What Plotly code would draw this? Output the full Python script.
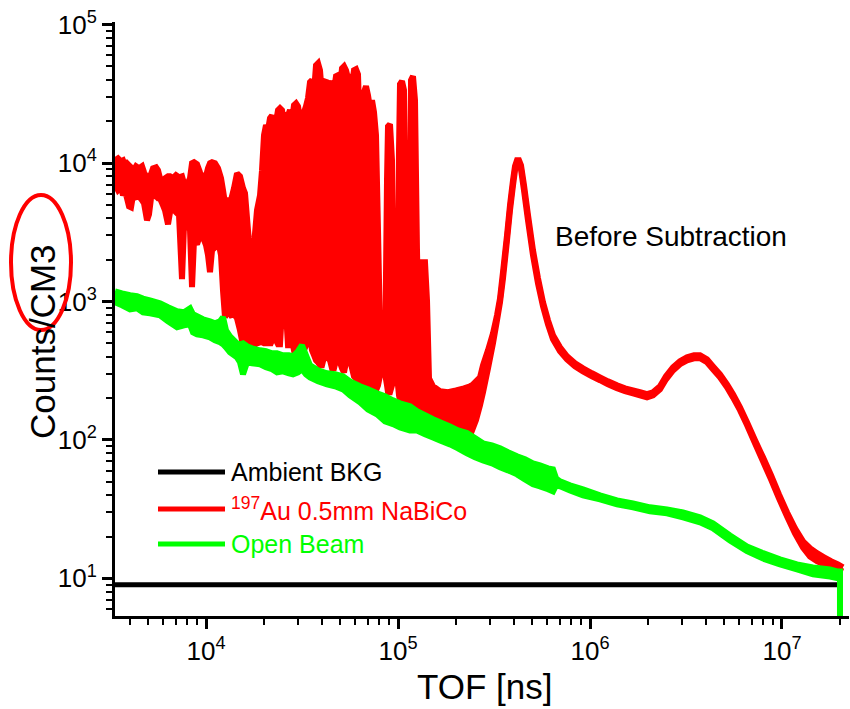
import plotly.graph_objects as go

# ---------------------------------------------------------------------------
# Time-of-flight spectra (TOF in ns, counts per channel).
# The noisy spectra are stored as an upper and a lower envelope per channel.
# ---------------------------------------------------------------------------

# 197Au 0.5 mm sample, NaBiCo filter
tof_au = [
    3357, 3481, 3609, 3697, 3785, 3877, 3972, 4069, 4168, 4320,
    4478, 4642, 4755, 4928, 5048, 5171, 5297, 5490, 5623, 5760,
    5971, 6116, 6340, 6494, 6732, 6979, 7235, 7499, 7681, 7963,
    8254, 8455, 8660, 8977, 9306, 9647, 10000, 10243, 10491, 10746,
    11139, 11548, 11971, 12262, 12559, 13019, 13496, 13990, 14502, 15033,
    15584, 15963, 16548, 17154, 17783, 18434, 19110, 19574, 20049, 20535,
    21034, 21544, 22067, 22603, 23151, 23714, 24289, 24879, 25483, 26102,
    26735, 27384, 28049, 28730, 29427, 30142, 30873, 31623, 32390, 33177,
    33982, 34807, 35652, 36517, 37404, 38312, 39242, 40194, 41170, 42170,
    43193, 44242, 45316, 46416, 47543, 48697, 49879, 51090, 52330, 53600,
    54901, 56234, 57599, 58997, 60430, 61897, 63399, 64165, 65721, 66515,
    68129, 69783, 71477, 73212, 74989, 76809, 78674, 80584, 82540, 85566,
    87643, 88701, 90853, 93057, 95316, 98807, 101210, 102430, 104910, 107460,
    110070, 112740, 115480, 116870, 119710, 122620, 125590, 128640, 131770, 134960,
    138240, 141590, 145020, 152150, 165480, 182140, 200490, 220670, 237140, 242890,
    254830, 267350, 277140, 294270, 312460, 327810, 339820, 352270, 369630, 383120,
    397160, 406790, 416660, 426760, 437110, 453160, 475430, 504800, 536000, 569120,
    604300, 641650, 697830, 759010, 835370, 919460, 1024300, 1127400, 1240900, 1382400,
    1521500, 1674800, 1821400, 1981000, 2128900, 2315100, 2487900, 2705900, 2942700, 3200400,
    3480700, 3740400, 4067900, 4371100, 4754300, 5170500, 5556500, 6043000, 6572100, 7234900,
    7962900, 8764300, 9646600, 10618000, 11687000, 12864000, 13990000, 15215000, 16548000, 17996000,
    19574000, 20775000,
]
au_upper = [
    10470, 10830, 10300, 10470, 9640, 9970, 9640, 9330, 8730, 9480,
    9170, 9480, 8580, 7770, 8030, 8300, 9170, 9330, 8870, 7770,
    7510, 7770, 8030, 8030, 7770, 8170, 7900, 8030, 7150, 6910,
    7770, 9970, 10130, 9800, 8580, 7770, 8030, 9170, 9970, 10130,
    9970, 9170, 7770, 6360, 5120, 5390, 5390, 6580, 8440, 8030,
    6580, 6050, 3270, 1920, 2550, 4560, 5850, 8870, 15900, 18800,
    17300, 21100, 22100, 17800, 19700, 24100, 24900, 24100, 19700, 22900,
    22100, 24100, 20400, 26200, 27000, 25700, 21100, 19700, 23300, 25700,
    29400, 38400, 39700, 32500, 50900, 52600, 46800, 30900, 38400, 39700,
    32500, 35900, 39000, 33600, 42400, 43100, 34700, 48400, 50000, 46800,
    41000, 43800, 36500, 46800, 47600, 43800, 14600, 1740, 12400, 32500,
    35900, 30900, 24900, 28400, 23300, 15900, 3270, 619, 335, 329,
    7510, 18400, 19100, 10470, 329, 324, 12400, 37100, 39000, 33600,
    2340, 619, 2340, 39700, 42400, 28400, 2340, 376, 1020, 1920,
    1920, 1020, 279, 244, 225, 221, 228, 236, 244, 248,
    265, 283, 346, 444, 589, 795, 1050, 1630, 3010, 4950,
    7510, 9480, 10470, 10470, 9640, 6910, 4200, 2340, 1470, 987,
    731, 570, 467, 402, 358, 329, 303, 283, 265, 248,
    236, 228, 221, 214, 221, 244, 288, 335, 370, 395,
    409, 409, 382, 340, 298, 252, 214, 172, 134, 99.3,
    74.9, 55.5, 40.4, 30.0, 23.0, 18.5, 16.5, 15.2, 14.2, 13.3,
    12.6, 12.0,
]
au_lower = [
    7030, 6360, 6690, 5850, 6260, 5570, 4870, 4790, 5850, 5660,
    5760, 5390, 5120, 3860, 4270, 5570, 5760, 5760, 5570, 5570,
    4950, 4560, 3610, 4410, 4710, 4410, 4200, 1450, 3550, 3740,
    3270, 1270, 2770, 2590, 3010, 2910, 2550, 2160, 1630, 2340,
    2460, 2770, 2160, 1200, 769, 864, 795, 808, 756, 619,
    483, 444, 389, 364, 483, 499, 507, 507, 499, 499,
    524, 483, 524, 579, 524, 491, 491, 864, 939, 836,
    483, 483, 524, 444, 444, 430, 422, 416, 444, 483,
    579, 560, 444, 409, 376, 364, 346, 346, 395, 395,
    389, 376, 329, 329, 376, 376, 364, 329, 308, 364,
    395, 376, 329, 288, 279, 270, 261, 261, 252, 252,
    248, 244, 236, 236, 232, 228, 248, 293, 303, 303,
    248, 221, 221, 248, 293, 293, 210, 193, 193, 190,
    187, 184, 181, 181, 181, 178, 178, 175, 172, 169,
    166, 164, 161, 148, 141, 134, 130, 125, 119, 117,
    139, 178, 221, 329, 499, 731, 987, 1470, 2770, 4560,
    6910, 8870, 9970, 9970, 9020, 6360, 3860, 2160, 1350, 923,
    684, 533, 437, 382, 340, 313, 288, 270, 252, 236,
    225, 217, 210, 203, 210, 232, 274, 318, 352, 376,
    389, 389, 364, 324, 283, 240, 203, 164, 128, 94.5,
    70.0, 51.9, 37.8, 28.1, 21.1, 16.7, 14.4, 13.3, 12.6, 12.0,
    11.6, 11.2,
]

# Open beam
tof_ob = [
    3357, 3652, 4019, 4371, 4698, 5109, 5760, 6340, 7063, 7681,
    8254, 8557, 8977, 9647, 10491, 11139, 11828, 12262, 12711, 13335,
    14502, 15033, 15584, 16352, 17360, 19110, 20535, 22067, 23431, 25180,
    27059, 28387, 30142, 31623, 33177, 34807, 38312, 42676, 46977, 51705,
    56234, 63399, 69783, 77738, 85566, 94179, 102430, 115480, 125590, 138240,
    152150, 165480, 186550, 205350, 228760, 251800, 277140, 308730, 339820, 374040,
    416660, 458740, 504800, 549010, 604300, 641650, 665150, 697830, 786740, 919460,
    1127400, 1382400, 1674800, 2053500, 2518000, 3050700, 3740400, 4371100, 5360000, 6572100,
    7962900, 9763000, 11970000, 14502000, 17783000, 19574000, 20049000, 20049000,
]
ob_upper = [
    1185, 1146, 1109, 1091, 1050, 1020, 971, 908, 850, 836,
    893, 808, 782, 744, 719, 696, 719, 769, 619, 560,
    499, 491, 499, 475, 459, 444, 437, 422, 422, 409,
    409, 402, 437, 483, 409, 346, 318, 303, 298, 288,
    265, 244, 232, 217, 207, 193, 184, 175, 161, 151,
    141, 134, 125, 117, 112, 103, 94.5, 91.4, 87.0, 81.4,
    76.1, 72.4, 67.7, 65.5, 62.3, 61.3, 52.8, 50.2, 47.0, 44.0,
    39.8, 36.6, 34.8, 32.6, 31.5, 30.0, 27.6, 25.0, 20.4, 17.0,
    15.2, 13.7, 12.6, 12.0, 11.6, 11.2, 11.2, 1.0,
]
ob_lower = [
    987, 939, 878, 893, 836, 822, 795, 719, 651, 673,
    684, 599, 579, 570, 551, 524, 507, 491, 467, 430,
    395, 364, 298, 364, 358, 352, 335, 324, 308, 313,
    303, 298, 308, 324, 298, 283, 265, 252, 244, 232,
    210, 187, 166, 153, 136, 130, 123, 117, 117, 110,
    104, 99.3, 92.9, 87.0, 80.0, 74.9, 71.2, 67.7, 63.4, 60.3,
    56.4, 51.9, 47.8, 46.2, 44.0, 42.5, 47.0, 46.2, 43.2, 39.8,
    37.2, 34.3, 32.6, 30.5, 29.5, 27.6, 25.4, 23.0, 18.8, 15.7,
    13.9, 12.6, 11.6, 10.7, 10.3, 10.0, 10.0, 1.0,
]

# Ambient background level
tof_bkg = [3357, 20775000]
bkg = [9.0, 9.0]

# Axis ticks
x_major = [1e4, 1e5, 1e6, 1e7]
x_major_text = ["10<sup>4</sup>", "10<sup>5</sup>", "10<sup>6</sup>", "10<sup>7</sup>"]
y_major = [1e1, 1e2, 1e3, 1e4, 1e5]
y_major_text = ["10<sup>1</sup>", "10<sup>2</sup>", "10<sup>3</sup>", "10<sup>4</sup>", "10<sup>5</sup>"]
x_minor = [m * 10 ** e for e in (3, 4, 5, 6) for m in range(2, 10)] + [2e7]
y_minor = [m * 10 ** e for e in (0, 1, 2, 3, 4) for m in range(2, 10)]

X_RANGE = [3.526, 7.349]
Y_RANGE = [0.728, 5.019]

RED = "#ff0000"
GREEN = "#00ff00"
BLACK = "#000000"
FONT = "Liberation Sans, Arial, sans-serif"
LW = 6

fig = go.Figure()

fig.add_trace(go.Scatter(x=tof_bkg, y=bkg, mode="lines",
                         line=dict(color=BLACK, width=5), showlegend=False))

fig.add_trace(go.Scatter(x=tof_au, y=au_upper, mode="lines",
                         line=dict(color=RED, width=LW, simplify=False), showlegend=False))
fig.add_trace(go.Scatter(x=tof_au, y=au_lower, mode="lines", fill="tonexty",
                         fillcolor=RED, line=dict(color=RED, width=LW, simplify=False),
                         showlegend=False))

fig.add_trace(go.Scatter(x=tof_ob, y=ob_upper, mode="lines",
                         line=dict(color=GREEN, width=LW, simplify=False), showlegend=False))
fig.add_trace(go.Scatter(x=tof_ob, y=ob_lower, mode="lines", fill="tonexty",
                         fillcolor=GREEN, line=dict(color=GREEN, width=LW, simplify=False),
                         showlegend=False))

axis_common = dict(
    type="log", showgrid=False, zeroline=False,
    showline=True, linecolor=BLACK, linewidth=3,
    tickcolor=BLACK, tickwidth=3,
    tickfont=dict(family=FONT, size=26, color=BLACK),
)

fig.update_layout(
    width=850, height=709,
    margin=dict(l=115, r=1, t=22, b=93),
    paper_bgcolor="white", plot_bgcolor="white",
    font=dict(family=FONT, color=BLACK),
    showlegend=False,
    xaxis=dict(axis_common, range=X_RANGE, ticks="outside", ticklen=10,
               tickmode="array", tickvals=x_major, ticktext=x_major_text,
               minor=dict(ticks="outside", ticklen=6, tickwidth=2, tickcolor=BLACK,
                          tickvals=x_minor, showgrid=False)),
    yaxis=dict(axis_common, range=Y_RANGE, ticks="outside", ticklen=10,
               tickmode="array", tickvals=y_major, ticktext=y_major_text,
               minor=dict(ticks="outside", ticklen=6, tickwidth=2, tickcolor=BLACK,
                          tickvals=y_minor, showgrid=False)),
    xaxis2=dict(axis_common, range=X_RANGE, overlaying="x", side="top", anchor="y",
                ticks="inside", ticklen=10, showticklabels=False,
                tickmode="array", tickvals=x_major,
                minor=dict(ticks="inside", ticklen=6, tickwidth=2, tickcolor=BLACK,
                           tickvals=x_minor, showgrid=False)),
    yaxis2=dict(axis_common, range=Y_RANGE, overlaying="y", side="right", anchor="x",
                ticks="inside", ticklen=8, showticklabels=False,
                tickmode="array", tickvals=y_major,
                minor=dict(ticks="inside", ticklen=3, tickwidth=2, tickcolor=BLACK,
                           tickvals=y_minor, showgrid=False)),
)

# Plot-area pixel geometry, used to place the text and legend in paper units
L, R, T, B = 115, 849, 22, 616


def px(x):
    return (x - L) / (R - L)


def py(y):
    return (B - y) / (B - T)


annotations = [
    dict(text="TOF [ns]", x=px(485), y=py(686), font=dict(size=35)),
    dict(text="Counts/CM3", x=px(42), y=py(342), font=dict(size=35), textangle=-90),
    dict(text="Before Subtraction", x=px(671), y=py(236), font=dict(size=28)),
]
for a in annotations:
    a.update(xref="paper", yref="paper", showarrow=False,
             xanchor="center", yanchor="middle")

# Legend drawn as line samples with coloured labels
legend_rows = [
    ("Ambient BKG", BLACK, 472),
    ("<sup>197</sup>Au 0.5mm NaBiCo", RED, 509),
    ("Open Beam", GREEN, 544),
]
shapes = []
for label, color, row_y in legend_rows:
    shapes.append(dict(type="line", xref="paper", yref="paper",
                       x0=px(158), x1=px(225), y0=py(row_y), y1=py(row_y),
                       line=dict(color=color, width=5)))
    annotations.append(dict(text=label, xref="paper", yref="paper",
                            x=px(229), y=py(row_y), xanchor="left", yanchor="middle",
                            showarrow=False, font=dict(size=25, color=color)))

# Highlight ring around the unit label
shapes.append(dict(type="circle", xref="paper", yref="paper",
                   x0=px(11), x1=px(71), y0=py(330), y1=py(195),
                   line=dict(color=RED, width=4)))

fig.update_layout(annotations=annotations, shapes=shapes)

fig.write_html("out.html")
